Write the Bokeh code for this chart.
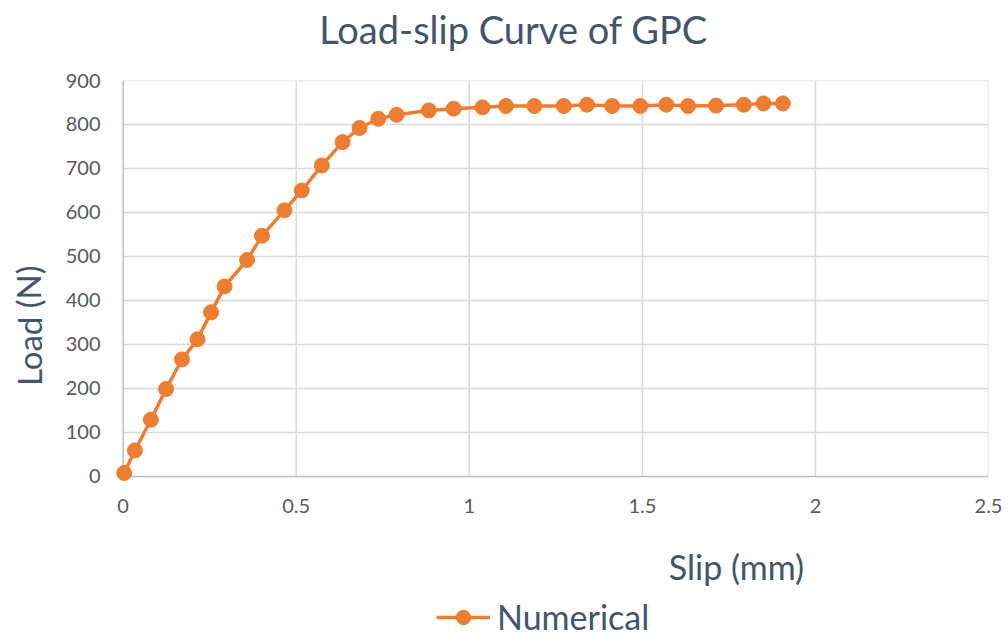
from bokeh.plotting import figure
from bokeh.layouts import column, row
from bokeh.models import Range1d, Label, Legend, LegendItem, FixedTicker
from bokeh.embed import file_html
from bokeh.resources import INLINE

# Load-slip response of the GPC specimen (numerical model)
slip_mm = [0.003, 0.034, 0.080, 0.124, 0.170, 0.215, 0.254, 0.293, 0.358, 0.401,
           0.466, 0.516, 0.574, 0.634, 0.683, 0.737, 0.790, 0.883, 0.955, 1.038,
           1.106, 1.188, 1.273, 1.340, 1.413, 1.494, 1.569, 1.632, 1.713, 1.793,
           1.850, 1.906]
load_n = [8, 59, 129, 199, 266, 312, 373, 432, 492, 547,
          605, 650, 707, 760, 792, 813, 822, 832, 836, 839,
          842, 842, 842, 845, 842, 842, 845, 842, 843, 845,
          848, 848]

x_ticks = [0, 0.5, 1, 1.5, 2, 2.5]
y_ticks = [0, 100, 200, 300, 400, 500, 600, 700, 800, 900]

FONT = "Lato"
TEXT = "#44546A"
TICK = "#595959"
ORANGE = "#ED7D31"
GRID = "#D9D9D9"
AXIS = "#BFBFBF"

W, H_HEAD, H_MAIN, H_FOOT, W_YLAB = 1008, 68, 452, 117, 60


def blank(width, height):
    f = figure(width=width, height=height, output_backend="svg",
               toolbar_location=None, x_axis_type=None, y_axis_type=None,
               x_range=Range1d(0, width), y_range=Range1d(0, height),
               min_border=0)
    f.outline_line_color = None
    return f


# ---- header with the chart title
head = blank(W, H_HEAD)
head.add_layout(Label(x=513, y=40, text="Load-slip Curve of GPC",
                      text_align="center", text_baseline="middle",
                      text_font=FONT, text_font_size="38px",
                      text_color=TEXT))

# ---- main chart (a little padding below/left of the origin keeps the first marker whole)
p = figure(width=W - W_YLAB, height=H_MAIN, output_backend="svg",
           toolbar_location=None,
           x_range=Range1d(-0.025, 2.5), y_range=Range1d(-16, 900),
           min_border_left=54, min_border_right=20, min_border_top=12,
           min_border_bottom=37)
p.outline_line_color = None
p.xgrid.visible = False
p.ygrid.visible = False

for ax in (p.xaxis[0], p.yaxis[0]):
    ax.major_tick_line_color = None
    ax.minor_tick_line_color = None
    ax.major_tick_out = 0
    ax.major_tick_in = 0
    ax.axis_line_color = None
    ax.major_label_text_font = FONT
    ax.major_label_text_font_size = "20px"
    ax.major_label_text_color = TICK

p.xaxis.ticker = FixedTicker(ticks=x_ticks)
p.yaxis.ticker = FixedTicker(ticks=y_ticks)
p.xaxis.major_label_standoff = 15
p.yaxis.major_label_standoff = 14

# gridlines from the tick positions; the two axis lines a shade darker
x0, x1 = x_ticks[0], x_ticks[-1]
y0, y1 = y_ticks[0], y_ticks[-1]
p.segment(x0=x_ticks[1:], y0=[y0] * (len(x_ticks) - 1),
          x1=x_ticks[1:], y1=[y1] * (len(x_ticks) - 1),
          line_color=GRID, line_width=1.5)
p.segment(x0=[x0] * (len(y_ticks) - 1), y0=y_ticks[1:],
          x1=[x1] * (len(y_ticks) - 1), y1=y_ticks[1:],
          line_color=GRID, line_width=1.5)
p.segment(x0=[x0, x0], y0=[y0, y0], x1=[x0, x1], y1=[y1, y0],
          line_color=AXIS, line_width=1.5)

p.line(slip_mm, load_n, line_color=ORANGE, line_width=3.5)
p.scatter(slip_mm, load_n, size=15, fill_color=ORANGE, line_color=ORANGE)

# ---- y-axis title strip
ylab_fig = blank(W_YLAB, H_MAIN)
ylab_fig.add_layout(Label(x=28, y=177, text="Load (N)", angle=1.5708,
                          text_align="center", text_baseline="middle",
                          text_font=FONT, text_font_size="33px",
                          text_color=TEXT))

# ---- footer: x-axis title and legend
foot = blank(W, H_FOOT)
foot.add_layout(Label(x=736, y=71, text="Slip (mm)", text_align="center",
                      text_baseline="middle", text_font=FONT,
                      text_font_size="34px", text_color=TEXT))
# legend key glyphs (their single sample sits outside the footer's view)
key_line = foot.line(x=[-20, -10], y=[-20, -20], line_color=ORANGE,
                     line_width=3.5)
key_pts = foot.scatter(x=[-15], y=[-20], size=15, fill_color=ORANGE,
                       line_color=ORANGE)
legend = Legend(items=[LegendItem(label="Numerical",
                                  renderers=[key_line, key_pts])],
                location=(436, 0), border_line_color=None,
                background_fill_alpha=0, glyph_width=54, glyph_height=36,
                label_text_font=FONT, label_text_font_size="34px",
                label_text_color=TEXT, label_standoff=7, padding=0, margin=0)
foot.add_layout(legend, "center")

layout = column(head, row(ylab_fig, p, spacing=0), foot, spacing=0)
open("out.html", "w").write(file_html(layout, INLINE))
